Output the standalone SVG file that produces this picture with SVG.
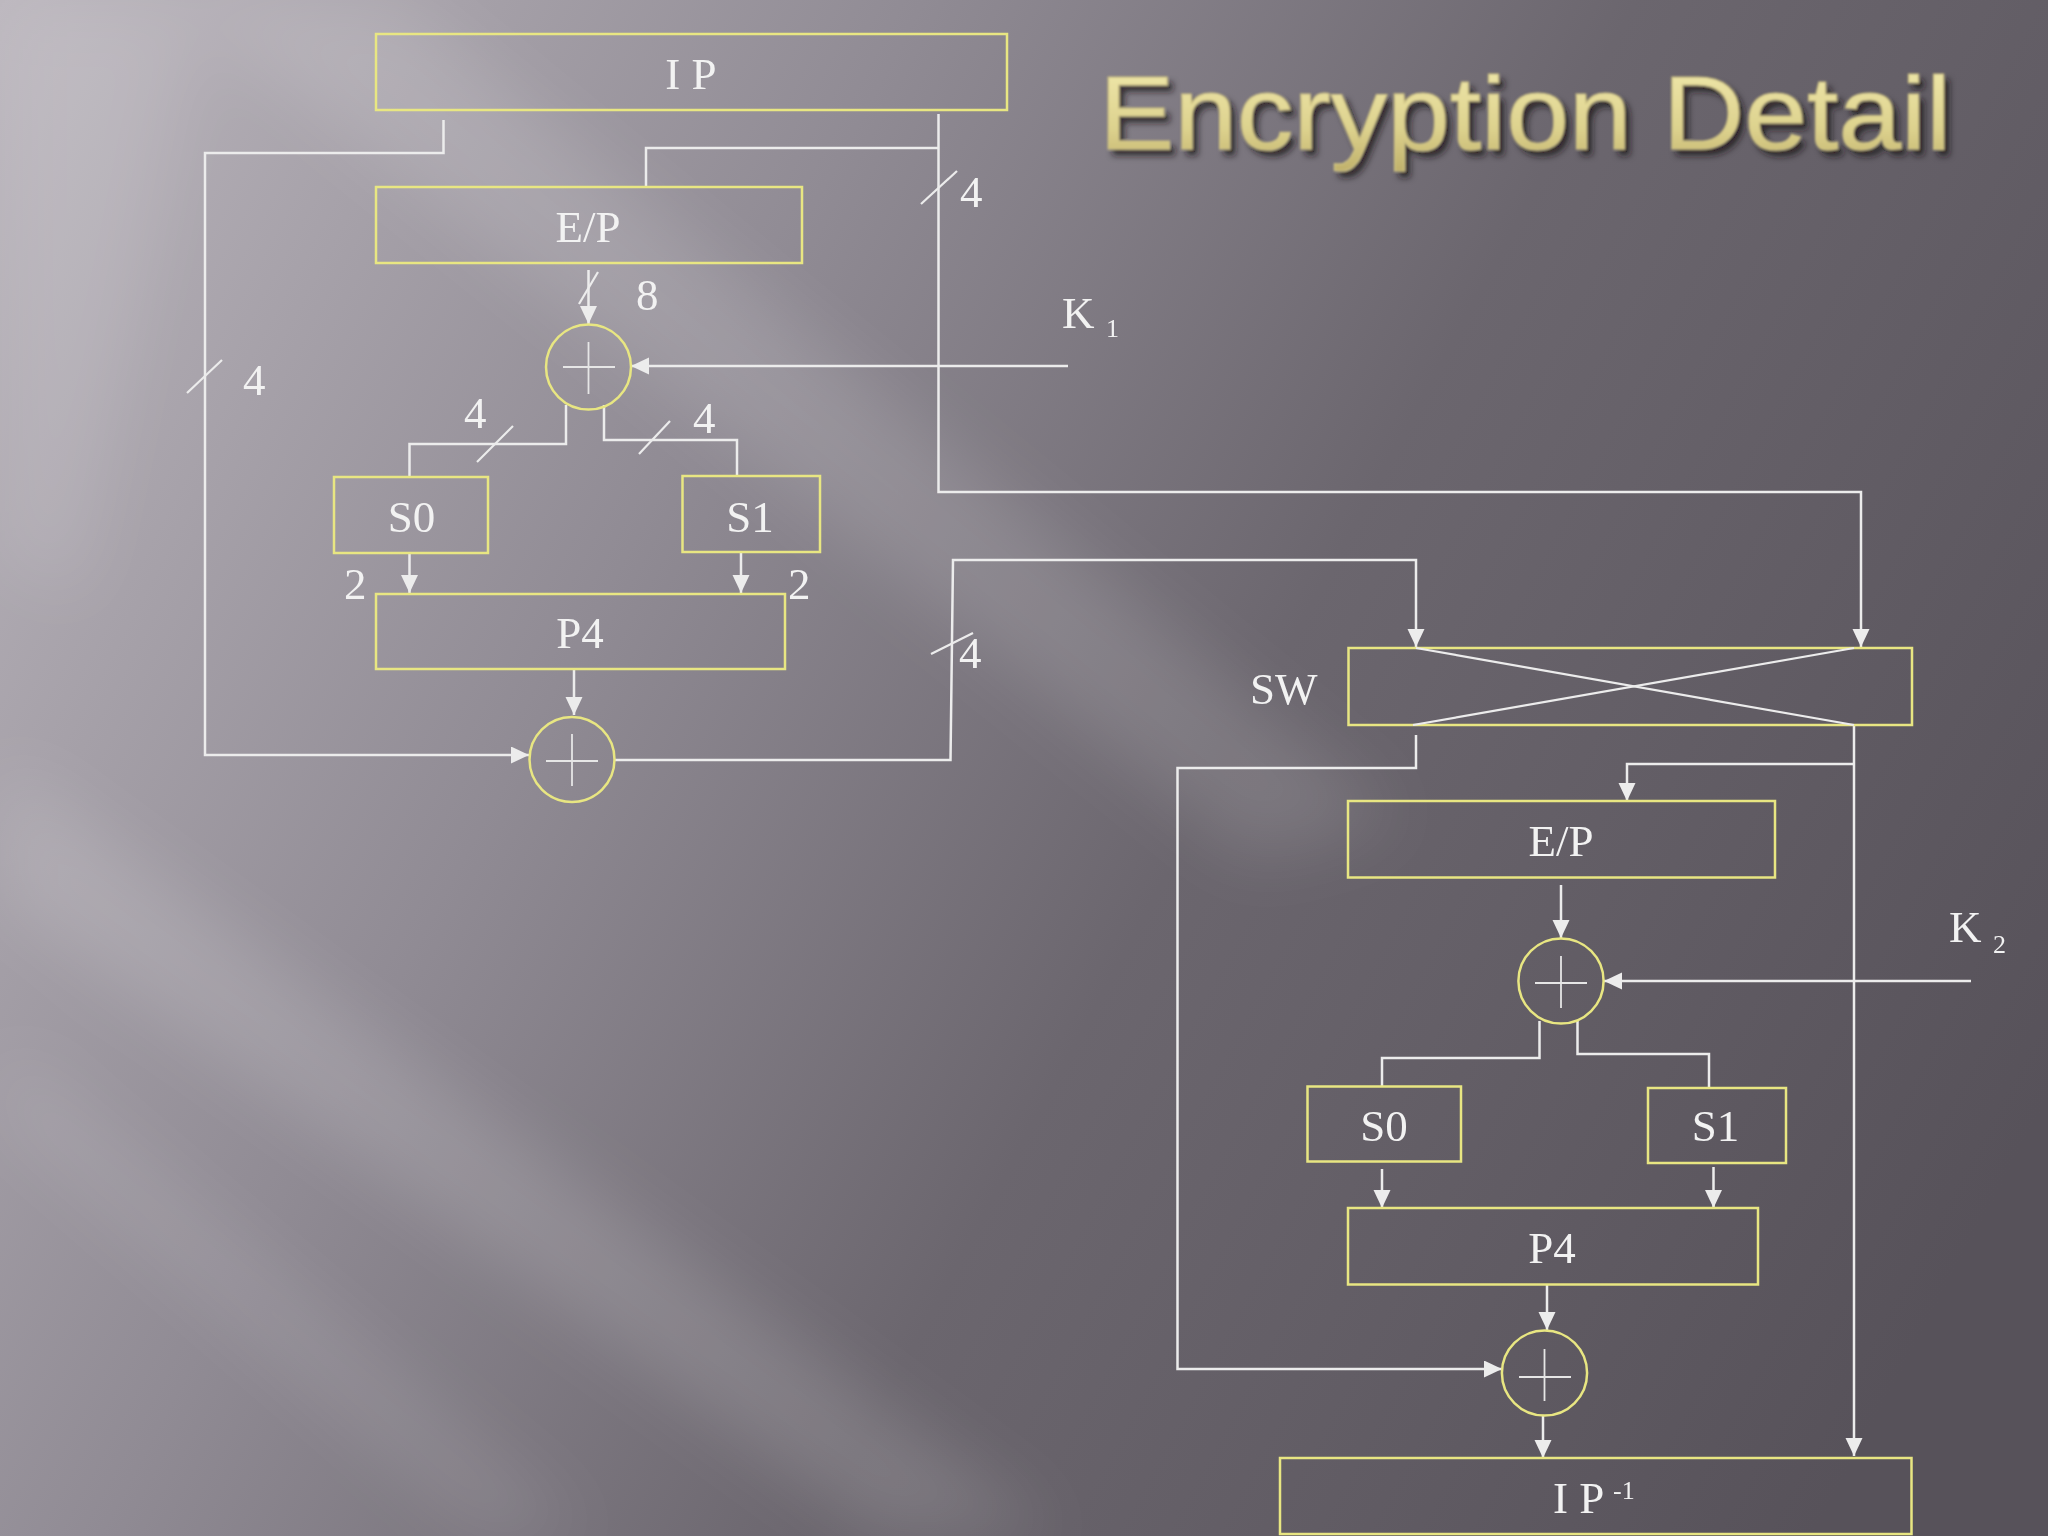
<svg xmlns="http://www.w3.org/2000/svg" width="2048" height="1536" viewBox="0 0 2048 1536">
<defs>
<linearGradient id="bg" x1="0" y1="0" x2="2048" y2="1100" gradientUnits="userSpaceOnUse">
<stop offset="0" stop-color="#bcb7be"/>
<stop offset="0.35" stop-color="#908b94"/>
<stop offset="0.62" stop-color="#6b666e"/>
<stop offset="1" stop-color="#57525a"/>
</linearGradient>
<linearGradient id="gold" x1="0" y1="75" x2="0" y2="172" gradientUnits="userSpaceOnUse">
<stop offset="0" stop-color="#ece4a6"/>
<stop offset="0.55" stop-color="#ddd28e"/>
<stop offset="1" stop-color="#bfb06a"/>
</linearGradient>
<filter id="blur" x="-20%" y="-20%" width="140%" height="140%"><feGaussianBlur stdDeviation="35"/></filter>
<filter id="shadow" x="-5%" y="-30%" width="110%" height="160%">
<feGaussianBlur in="SourceAlpha" stdDeviation="3" result="b"/>
<feOffset in="b" dx="5" dy="6" result="o"/>
<feFlood flood-color="#1a1618" flood-opacity="0.75"/>
<feComposite in2="o" operator="in" result="s"/>
<feGaussianBlur in="SourceGraphic" stdDeviation="0.8" result="t"/>
<feMerge><feMergeNode in="s"/><feMergeNode in="t"/></feMerge>
</filter>
<marker id="arr" markerUnits="userSpaceOnUse" markerWidth="20" markerHeight="18" refX="18" refY="8.5" orient="auto">
<path d="M0,0 L18,8.5 L0,17 Z" fill="#ececec"/>
</marker>
<style>
.box{fill:none;stroke:#e8e682;stroke-width:2.5}
.xor{fill:none;stroke:#e8e682;stroke-width:2.5}
.plus{stroke:#e6e6e6;stroke-width:1.8}
.ln{fill:none;stroke:#ececec;stroke-width:2.5}
.ar{fill:none;stroke:#ececec;stroke-width:2.5;marker-end:url(#arr)}
.sl{stroke:#ececec;stroke-width:2.2}
.t{font-family:"Liberation Serif","Times New Roman",serif;font-size:45px;fill:#f2f2f2}
.c{text-anchor:middle}
.sub{font-family:"Liberation Serif","Times New Roman",serif;font-size:26px;fill:#f2f2f2}
</style>
</defs>

<rect x="0" y="0" width="2048" height="1536" fill="url(#bg)"/>
<g filter="url(#blur)" fill="#ffffff">
<polygon points="180,0 400,0 1400,820 1250,860" opacity="0.13"/>
<polygon points="0,0 200,0 80,600 0,560" opacity="0.1"/>
<polygon points="0,760 0,900 880,1536 1060,1536" opacity="0.14"/>
<polygon points="0,1040 0,1120 480,1536 590,1536" opacity="0.1"/>
</g>

<text x="1099" y="149" font-family="'Liberation Sans',Arial,sans-serif" font-size="103" fill="url(#gold)" stroke="#cfc384" stroke-width="1.2" textLength="852" lengthAdjust="spacingAndGlyphs" filter="url(#shadow)">Encryption Detail</text>

<g id="connectors">
<polyline class="ar" points="443.5,120 443.5,153 205,153 205,755 529,755"/>
<polyline class="ar" points="938.5,114 938.5,492 1861,492 1861,647"/>
<polyline class="ln" points="938.5,148 646,148 646,187"/>
<line class="ar" x1="588.5" y1="270" x2="588.5" y2="324"/>
<line class="ar" x1="1068" y1="366" x2="631" y2="366"/>
<polyline class="ln" points="566,405 566,444 409.5,444 409.5,477"/>
<polyline class="ln" points="604,405 604,440 737,440 737,476"/>
<line class="ar" x1="409.5" y1="553" x2="409.5" y2="593"/>
<line class="ar" x1="741" y1="552" x2="741" y2="593"/>
<line class="ar" x1="574" y1="669" x2="574" y2="715"/>
<polyline class="ar" points="614.5,760 950.5,760 953,560 1416,560 1416,647"/>

<line class="sl" x1="187" y1="393" x2="222" y2="360"/>
<line class="sl" x1="921" y1="204" x2="957" y2="171"/>
<line class="sl" x1="579" y1="304" x2="598" y2="272"/>
<line class="sl" x1="477" y1="462" x2="513" y2="426"/>
<line class="sl" x1="639" y1="454" x2="670" y2="421"/>
<line class="sl" x1="931" y1="654" x2="973" y2="633"/>

<polyline class="ar" points="1416,735 1416,768 1177.5,768 1177.5,1369 1502,1369"/>
<line class="ar" x1="1854" y1="725" x2="1854" y2="1456"/>
<polyline class="ar" points="1854,764 1627,764 1627,801"/>
<line class="ar" x1="1561" y1="885" x2="1561" y2="938"/>
<line class="ar" x1="1971" y1="981" x2="1604" y2="981"/>
<polyline class="ln" points="1539.5,1021 1539.5,1058 1382,1058 1382,1086"/>
<polyline class="ln" points="1577.5,1021 1577.5,1054 1709,1054 1709,1088"/>
<line class="ar" x1="1382" y1="1169" x2="1382" y2="1208"/>
<line class="ar" x1="1713.5" y1="1167" x2="1713.5" y2="1208"/>
<line class="ar" x1="1547" y1="1285" x2="1547" y2="1330"/>
<line class="ar" x1="1543" y1="1416" x2="1543" y2="1458"/>
</g>

<g id="labels">
<text class="t" x="243" y="395">4</text>
<text class="t" x="960" y="207">4</text>
<text class="t" x="636" y="310">8</text>
<text class="t" x="464" y="428">4</text>
<text class="t" x="693" y="433">4</text>
<text class="t" x="344" y="599">2</text>
<text class="t" x="788" y="599">2</text>
<text class="t" x="959" y="668">4</text>
</g>

<g id="ip">
<rect class="box" x="376" y="34" width="631" height="76"/>
<text class="t c" x="691" y="89">I P</text>
</g>
<g id="ep1">
<rect class="box" x="376" y="187" width="426" height="76"/>
<text class="t c" x="588" y="242">E/P</text>
</g>
<g id="xor1">
<circle class="xor" cx="588.5" cy="367" r="42.5"/>
<line class="plus" x1="563" y1="367" x2="615" y2="367"/>
<line class="plus" x1="588.5" y1="342" x2="588.5" y2="394"/>
</g>
<g id="k1">
<text class="t" x="1062" y="328">K</text>
<text class="sub" x="1106" y="337">1</text>
</g>
<g id="s0a">
<rect class="box" x="334" y="477" width="154" height="76"/>
<text class="t c" x="411.5" y="532">S0</text>
</g>
<g id="s1a">
<rect class="box" x="682.5" y="476" width="137.5" height="76"/>
<text class="t c" x="750" y="532">S1</text>
</g>
<g id="p4a">
<rect class="box" x="376" y="594" width="409" height="75"/>
<text class="t c" x="580" y="648">P4</text>
</g>
<g id="xor2">
<circle class="xor" cx="572" cy="759.5" r="42.5"/>
<line class="plus" x1="546" y1="761" x2="598" y2="761"/>
<line class="plus" x1="572" y1="734" x2="572" y2="786"/>
</g>

<g id="sw">
<rect class="box" x="1348.5" y="648" width="563.5" height="77"/>
<line class="sl" x1="1416" y1="648" x2="1854" y2="725"/>
<line class="sl" x1="1854" y1="648" x2="1413" y2="725"/>
<text class="t" x="1250" y="704">SW</text>
</g>
<g id="ep2">
<rect class="box" x="1348" y="801" width="427" height="76.5"/>
<text class="t c" x="1561" y="856">E/P</text>
</g>
<g id="xor3">
<circle class="xor" cx="1561" cy="981" r="42.6"/>
<line class="plus" x1="1535" y1="983" x2="1587" y2="983"/>
<line class="plus" x1="1561" y1="956" x2="1561" y2="1008"/>
</g>
<g id="k2">
<text class="t" x="1949" y="942">K</text>
<text class="sub" x="1993" y="953">2</text>
</g>
<g id="s0b">
<rect class="box" x="1307.5" y="1086.5" width="153.5" height="75"/>
<text class="t c" x="1384" y="1141">S0</text>
</g>
<g id="s1b">
<rect class="box" x="1648" y="1088" width="138" height="75"/>
<text class="t c" x="1715.5" y="1141">S1</text>
</g>
<g id="p4b">
<rect class="box" x="1348" y="1208" width="410" height="76.5"/>
<text class="t c" x="1552" y="1263">P4</text>
</g>
<g id="xor4">
<circle class="xor" cx="1544.5" cy="1373" r="42.6"/>
<line class="plus" x1="1519" y1="1377" x2="1571" y2="1377"/>
<line class="plus" x1="1544.5" y1="1349" x2="1544.5" y2="1401"/>
</g>
<g id="ipinv">
<rect class="box" x="1280" y="1458" width="631.5" height="76"/>
<text class="t" x="1553" y="1513">I P</text>
<text class="sub" x="1613" y="1499">-1</text>
</g>
</svg>
